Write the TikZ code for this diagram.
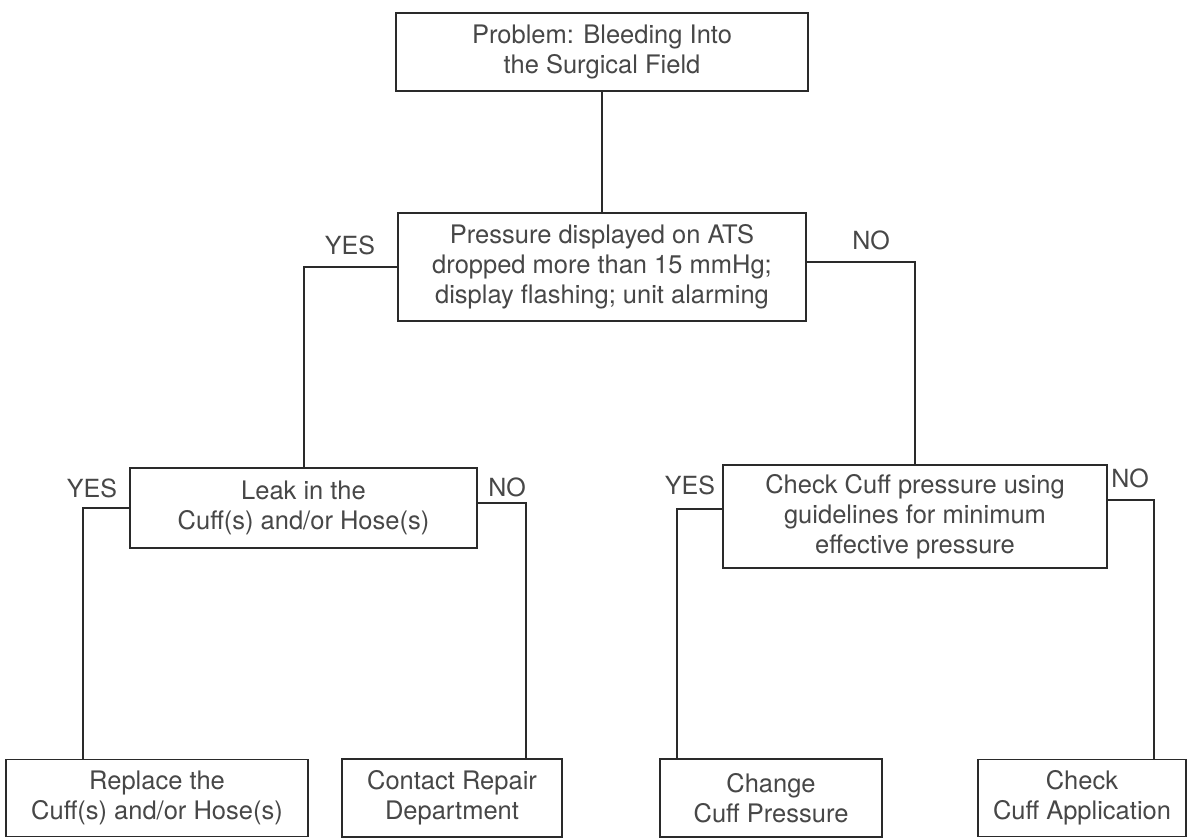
\documentclass[tikz,border=0pt]{standalone}
\usepackage{fontspec}
\setmainfont{TeX Gyre Heros}
\definecolor{linec}{HTML}{2A2A2A}
\definecolor{textc}{HTML}{474747}
\begin{document}
\begin{tikzpicture}[x=1pt,y=-1pt,
  box/.style={draw=linec, line width=1.7pt, rectangle, inner sep=0pt, align=center,
    text=textc, font=\fontsize{25.5}{30}\selectfont},
  lbl/.style={text=textc, font=\fontsize{25}{30}\selectfont, inner sep=0pt},
  conn/.style={draw=linec, line width=2pt}]
\useasboundingbox (0,0) rectangle (1188,838);
\fill[white] (0,0) rectangle (1188,838);

\node[box, minimum width=412pt, minimum height=78pt] (top) at (602,52)
  {Problem: Bleeding Into\\the Surgical Field};
\node[box, minimum width=408pt, minimum height=108pt] (q1) at (602,267)
  {Pressure displayed on ATS\\dropped more than 15 mmHg;\\display flashing; unit alarming};
\node[box, minimum width=347pt, minimum height=80pt] (leak) at (303.5,508)
  {Leak in the\\Cuff(s) and/or Hose(s)};
\node[box, minimum width=384pt, minimum height=103pt] (chk) at (915,516.5)
  {Check Cuff pressure using\\guidelines for minimum\\effective pressure};
\node[box, minimum width=302pt, minimum height=77pt] (repl) at (157,798)
  {Replace the\\Cuff(s) and/or Hose(s)};
\node[box, minimum width=220pt, minimum height=78pt] (repair) at (452,798)
  {Contact Repair\\Department};
\node[box, minimum width=222pt, minimum height=78pt] (change) at (771,798)
  {Change\\Cuff Pressure};
\node[box, minimum width=208pt, minimum height=77pt] (app) at (1082,798)
  {Check\\Cuff Application};

\draw[conn] (top) -- (q1);
\draw[conn] (q1.west) -| (leak.north);
\draw[conn] ([yshift=5pt]q1.east) -| (chk.north);
\draw[conn] (leak.west) -| ([xshift=-74pt]repl.north);
\draw[conn] ([yshift=5pt]leak.east) -| ([xshift=74pt]repair.north);
\draw[conn] ([yshift=8pt]chk.west) -| ([xshift=-94pt]change.north);
\draw[conn] ([yshift=17pt]chk.east) -| ([xshift=72pt]app.north);

\node[lbl] (yes1) at (350,245) {YES};
\node[lbl] (no1) at (871,240) {NO};
\node[lbl] (yes2) at (92,488) {YES};
\node[lbl] (no2) at (507,487) {NO};
\node[lbl] (yes3) at (690,485) {YES};
\node[lbl] (no3) at (1130,478) {NO};
\end{tikzpicture}
\end{document}
